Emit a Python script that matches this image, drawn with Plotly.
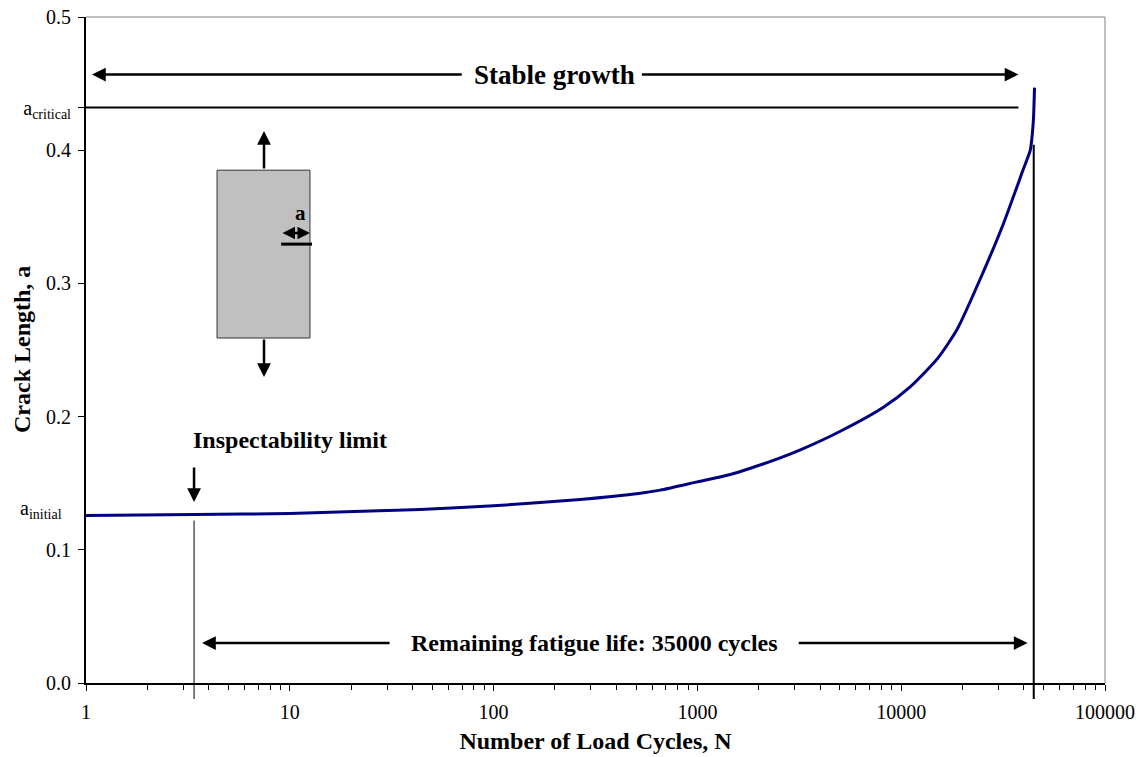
import numpy as np
import plotly.graph_objects as go

# ---- data ----
cycles = [1, 3.4, 10, 43.6, 100, 266, 525, 658, 1000, 1450, 1820, 2550, 3200,
          5030, 8180, 11100, 15060, 18880, 25350, 31770, 39800, 43000, 44000,
          44600, 45100]
crack = [0.1258, 0.1265, 0.1273, 0.1303, 0.133, 0.1378, 0.1425, 0.1448, 0.151,
         0.1565, 0.1612, 0.169, 0.175, 0.189, 0.207, 0.2225, 0.2435, 0.266, 0.309,
         0.345, 0.386, 0.400, 0.4125, 0.4245, 0.447]

a_critical = 0.432
a_initial = 0.1258
N_inspect = 3.39
N_final = 44700
a_final_line = 0.404
a_inspect_line = 0.122
critical_line_end = 37600

x_tickvals = [1, 10, 100, 1000, 10000, 100000]
x_ticktext = ["1", "10", "100", "1000", "10000", "100000"]
y_tickvals = [0.0, 0.1, 0.2, 0.3, 0.4, 0.5, a_critical]
y_ticktext = ["0.0", "0.1", "0.2", "0.3", "0.4", "0.5", "a<sub>critical</sub>"]

FONT = "Liberation Serif"
L = np.log10

fig = go.Figure()
fig.add_trace(go.Scatter(x=cycles, y=crack, mode="lines",
                         line=dict(color="#000080", width=3, shape="spline", smoothing=0.6),
                         hoverinfo="skip", showlegend=False))
# vertical markers (inside plot)
fig.add_trace(go.Scatter(x=[N_inspect, N_inspect], y=[0, a_inspect_line], mode="lines",
                         line=dict(color="black", width=1), showlegend=False))
fig.add_trace(go.Scatter(x=[N_final, N_final], y=[0, a_final_line], mode="lines",
                         line=dict(color="black", width=2), showlegend=False))

shapes = []
# stubs below axis
shapes.append(dict(type="line", xref="x", yref="paper", x0=N_inspect, x1=N_inspect,
                   y0=0, y1=-0.024, line=dict(color="black", width=1)))
shapes.append(dict(type="line", xref="x", yref="paper", x0=N_final, x1=N_final,
                   y0=0, y1=-0.024, line=dict(color="black", width=2)))
# a_critical line
shapes.append(dict(type="line", xref="x", yref="y", x0=1, x1=critical_line_end,
                   y0=a_critical, y1=a_critical, line=dict(color="black", width=2)))
# top / right border in gray
shapes.append(dict(type="line", xref="paper", yref="paper", x0=0, x1=1, y0=1, y1=1,
                   line=dict(color="#808080", width=1)))
shapes.append(dict(type="line", xref="paper", yref="paper", x0=1, x1=1, y0=0, y1=1,
                   line=dict(color="#808080", width=1)))
# specimen schematic
shapes.append(dict(type="rect", xref="paper", yref="paper", x0=0.1286, x1=0.2198,
                   y0=0.518, y1=0.770, fillcolor="#c0c0c0",
                   line=dict(color="#333333", width=1)))
shapes.append(dict(type="line", xref="paper", yref="paper", x0=0.1915, x1=0.2218,
                   y0=0.659, y1=0.659, line=dict(color="black", width=3)))

ann = []
arrow_common = dict(showarrow=True, arrowhead=2, arrowsize=1.1, arrowwidth=2.5,
                    arrowcolor="black", text="")
# Stable growth arrows
y_sg = 0.4568
ann.append(dict(x=L(1.07), y=y_sg, ax=L(71), ay=y_sg, xref="x", yref="y",
                axref="x", ayref="y", **arrow_common))
ann.append(dict(x=L(37600), y=y_sg, ax=L(525), ay=y_sg, xref="x", yref="y",
                axref="x", ayref="y", **arrow_common))
ann.append(dict(x=L(200), y=y_sg, xref="x", yref="y", showarrow=False,
                text="<b>Stable growth</b>", font=dict(family=FONT, size=27, color="black")))
# Remaining fatigue life arrows
y_rf = 0.030
ann.append(dict(x=L(3.71), y=y_rf, ax=L(31.4), ay=y_rf, xref="x", yref="y",
                axref="x", ayref="y", **arrow_common))
ann.append(dict(x=L(41700), y=y_rf, ax=L(3090), ay=y_rf, xref="x", yref="y",
                axref="x", ayref="y", **arrow_common))
ann.append(dict(x=L(313), y=y_rf, xref="x", yref="y", showarrow=False,
                text="<b>Remaining fatigue life: 35000 cycles</b>",
                font=dict(family=FONT, size=24, color="black")))
# Inspectability
ann.append(dict(x=L(N_inspect), y=0.1358, xref="x", yref="y", ax=0, ay=-36,
                **arrow_common))
ann.append(dict(x=L(N_inspect), y=0.1823, xref="x", yref="y", showarrow=False,
                xanchor="left", xshift=-3, text="<b>Inspectability limit</b>",
                font=dict(family=FONT, size=24, color="black")))
# a_initial label
ann.append(dict(x=0, y=a_initial, xref="paper", yref="y", showarrow=False,
                xanchor="right", xshift=-22, yshift=6, text="a<sub>initial</sub>",
                font=dict(family=FONT, size=20, color="black")))
# specimen arrows
ann.append(dict(x=0.1747, y=0.829, xref="paper", yref="paper", ax=0, ay=39, **arrow_common))
ann.append(dict(x=0.1747, y=0.4595, xref="paper", yref="paper", ax=0, ay=-39, **arrow_common))
ann.append(dict(x=0.2198, y=0.6757, xref="paper", yref="paper", ax=-29, ay=0,
                arrowside="end+start", showarrow=True, arrowhead=2, arrowsize=1.0,
                arrowwidth=2.5, arrowcolor="black", text=""))
ann.append(dict(x=0.2031, y=0.6757, xref="paper", yref="paper", showarrow=False,
                yanchor="bottom", yshift=6,
                text="<b>a</b>", font=dict(family=FONT, size=21, color="black")))
# y axis title
ann.append(dict(x=0, y=0.5, xref="paper", yref="paper", showarrow=False,
                xanchor="center", yanchor="middle", xshift=-64, textangle=-90,
                text="<b>Crack Length, a</b>",
                font=dict(family=FONT, size=24, color="black")))

fig.update_layout(
    width=1140, height=757,
    margin=dict(l=86, r=35, t=17, b=74, autoexpand=False),
    paper_bgcolor="white", plot_bgcolor="white",
    font=dict(family=FONT, size=20, color="black"),
    shapes=shapes, annotations=ann, showlegend=False,
    xaxis=dict(type="log", range=[0, 5], tickmode="array", tickvals=x_tickvals,
               ticktext=x_ticktext, ticks="outside", ticklen=6, tickwidth=1,
               tickcolor="black", showline=True, linecolor="black", linewidth=2,
               showgrid=False, zeroline=False, automargin=False,
               ticklabelstandoff=4,
               tickfont=dict(family=FONT, size=20, color="black"),
               minor=dict(ticks="outside", ticklen=5, tickwidth=1, tickcolor="black",
                          dtick="D1", showgrid=False),
               title=dict(text="<b>Number of Load Cycles, N</b>",
                          font=dict(family=FONT, size=24, color="black"), standoff=10)),
    yaxis=dict(range=[0, 0.5], tickmode="array", tickvals=y_tickvals, ticktext=y_ticktext,
               ticks="outside", ticklen=6, tickwidth=1, tickcolor="black",
               showline=True, linecolor="black", linewidth=2, showgrid=False,
               zeroline=False, automargin=False, ticklabelstandoff=3,
               tickfont=dict(family=FONT, size=20, color="black")),
)

fig.write_html("out.html", post_script="document.body.style.margin='0px';",
               config={"displayModeBar": False})
